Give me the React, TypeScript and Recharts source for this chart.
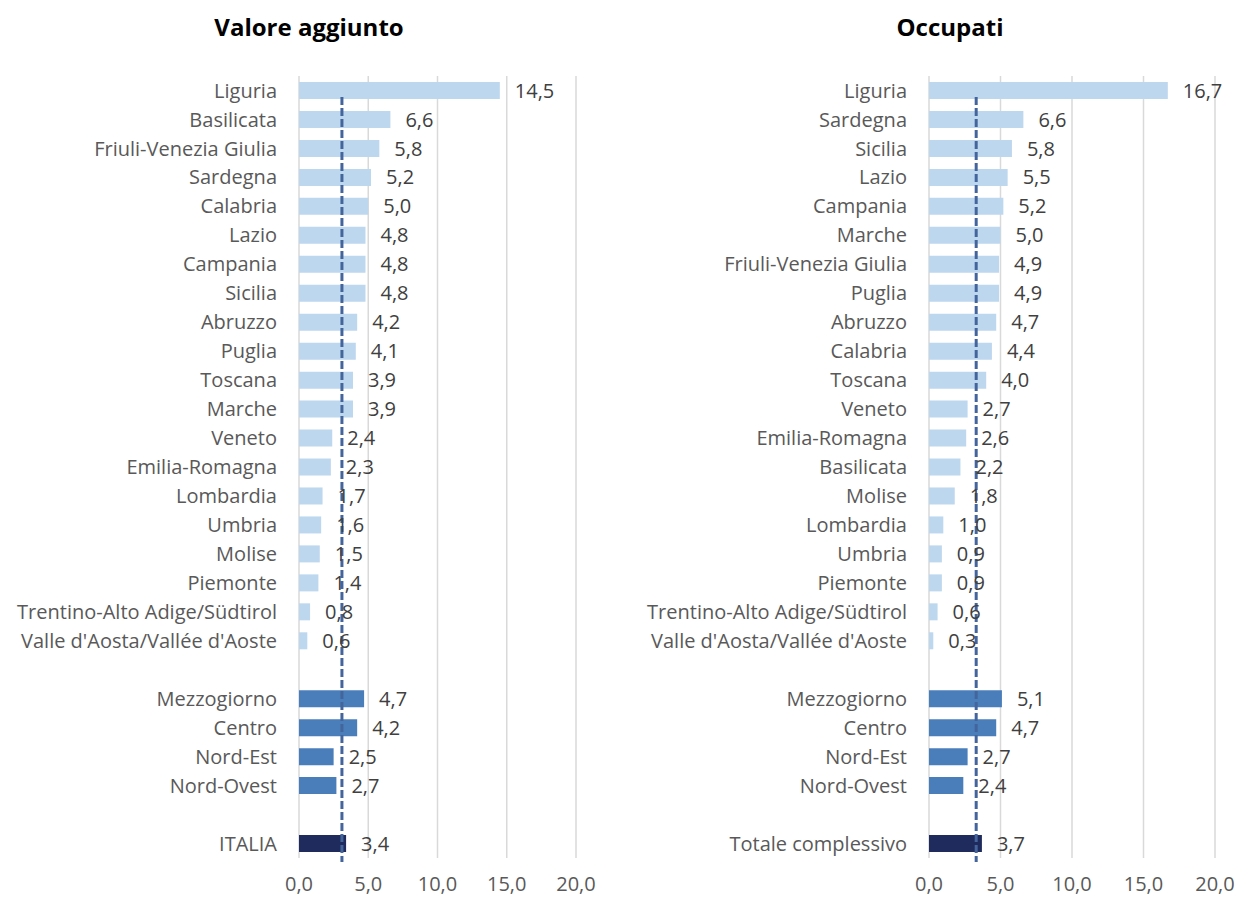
import { BarChart, Bar, XAxis, YAxis, CartesianGrid, Cell, LabelList, ReferenceLine } from 'recharts';

// Valore aggiunto (regioni ordinate per valore)
const vaRegions = [
  'Liguria', 'Basilicata', 'Friuli-Venezia Giulia', 'Sardegna', 'Calabria', 'Lazio', 'Campania',
  'Sicilia', 'Abruzzo', 'Puglia', 'Toscana', 'Marche', 'Veneto', 'Emilia-Romagna', 'Lombardia',
  'Umbria', 'Molise', 'Piemonte', 'Trentino-Alto Adige/Südtirol', "Valle d'Aosta/Vallée d'Aoste",
];
const vaRegionValues = [14.5, 6.6, 5.8, 5.2, 5.0, 4.8, 4.8, 4.8, 4.2, 4.1, 3.9, 3.9, 2.4, 2.3, 1.7, 1.6, 1.5, 1.4, 0.8, 0.6];
const vaMacroValues = [4.7, 4.2, 2.5, 2.7];
const vaTotalLabel = 'ITALIA';
const vaTotal = 3.4;
const vaAverage = 3.1;

// Occupati
const occRegions = [
  'Liguria', 'Sardegna', 'Sicilia', 'Lazio', 'Campania', 'Marche', 'Friuli-Venezia Giulia', 'Puglia',
  'Abruzzo', 'Calabria', 'Toscana', 'Veneto', 'Emilia-Romagna', 'Basilicata', 'Molise', 'Lombardia',
  'Umbria', 'Piemonte', 'Trentino-Alto Adige/Südtirol', "Valle d'Aosta/Vallée d'Aoste",
];
const occRegionValues = [16.7, 6.6, 5.8, 5.5, 5.2, 5.0, 4.9, 4.9, 4.7, 4.4, 4.0, 2.7, 2.6, 2.2, 1.8, 1.0, 0.9, 0.9, 0.6, 0.3];
const occMacroValues = [5.1, 4.7, 2.7, 2.4];
const occTotalLabel = 'Totale complessivo';
const occTotal = 3.7;
const occAverage = 3.3;

const macroAreas = ['Mezzogiorno', 'Centro', 'Nord-Est', 'Nord-Ovest'];
const xTicks = [0, 5, 10, 15, 20];

const COLORS = { region: '#BDD7EE', macro: '#4A7EBB', total: '#1F2B5C', blank: 'transparent' };
const FONT = '"Open Sans", Lato, sans-serif';

type Row = { name: string; value: number | null; kind: 'region' | 'macro' | 'total' | 'blank' };

function buildRows(regions: string[], rv: number[], mv: number[], totalLabel: string, total: number): Row[] {
  const rows: Row[] = regions.map((n, i) => ({ name: n, value: rv[i], kind: 'region' }));
  rows.push({ name: ' ', value: null, kind: 'blank' });
  macroAreas.forEach((n, i) => rows.push({ name: n, value: mv[i], kind: 'macro' }));
  rows.push({ name: '  ', value: null, kind: 'blank' });
  rows.push({ name: totalLabel, value: total, kind: 'total' });
  return rows;
}

const fmt = (v: any) => (v === null || v === undefined || v === '' ? '' : Number(v).toFixed(1).replace('.', ','));

// dashed average line: starts a bit below the top of the plot, ends just past the bottom
const AvgLine = (p: any) => {
  const top = Math.min(p.y1, p.y2);
  const bottom = Math.max(p.y1, p.y2);
  return <line x1={p.x1} y1={top + 21} x2={p.x2} y2={bottom + 4} stroke="#44659B" strokeWidth={3} strokeDasharray="8 3" />;
};

function Panel({ rows, avg, width, axisWidth, rightMargin }: { rows: Row[]; avg: number; width: number; axisWidth: number; rightMargin: number }) {
  return (
    <BarChart
      width={width}
      height={897}
      data={rows}
      layout="vertical"
      margin={{ top: 76, right: rightMargin, bottom: 9, left: 0 }}
      barCategoryGap={0}
    >
      <CartesianGrid horizontal={false} stroke="#D9D9D9" strokeWidth={1.5} />
      <XAxis
        type="number"
        domain={[0, 20]}
        ticks={xTicks}
        tickFormatter={fmt}
        axisLine={false}
        tickLine={false}
        height={30}
        tickMargin={13}
        tick={{ fill: '#595959', fontSize: 20, fontFamily: FONT }}
      />
      <YAxis
        type="category"
        dataKey="name"
        width={axisWidth}
        axisLine={false}
        tickLine={false}
        interval={0}
        tickMargin={16}
        tick={{ fill: '#595959', fontSize: 20, fontFamily: FONT }}
      />
      <Bar dataKey="value" barSize={17} isAnimationActive={false}>
        {rows.map((r, i) => (
          <Cell key={i} fill={COLORS[r.kind]} />
        ))}
        <LabelList dataKey="value" position="right" offset={15} formatter={fmt} fill="#404040" fontSize={20} fontFamily={FONT} />
      </Bar>
      <ReferenceLine x={avg} shape={AvgLine} />
    </BarChart>
  );
}

export default function App() {
  const vaRows = buildRows(vaRegions, vaRegionValues, vaMacroValues, vaTotalLabel, vaTotal);
  const occRows = buildRows(occRegions, occRegionValues, occMacroValues, occTotalLabel, occTotal);
  const titleStyle: React.CSSProperties = {
    position: 'absolute', top: 10, fontFamily: FONT, fontWeight: 700, fontSize: 24, color: '#000', textAlign: 'center', width: 400,
  };
  return (
    <div style={{ position: 'absolute', left: 0, top: 0, width: 1239, height: 897, background: '#fff', overflow: 'hidden' }}>
      <div style={{ ...titleStyle, left: 109 }}>Valore aggiunto</div>
      <div style={{ ...titleStyle, left: 750 }}>Occupati</div>
      <div style={{ position: 'absolute', left: 0, top: 0 }}>
        <Panel rows={vaRows} avg={vaAverage} width={620} axisWidth={299} rightMargin={44} />
      </div>
      <div style={{ position: 'absolute', left: 620, top: 0 }}>
        <Panel rows={occRows} avg={occAverage} width={619} axisWidth={309} rightMargin={24} />
      </div>
    </div>
  );
}
